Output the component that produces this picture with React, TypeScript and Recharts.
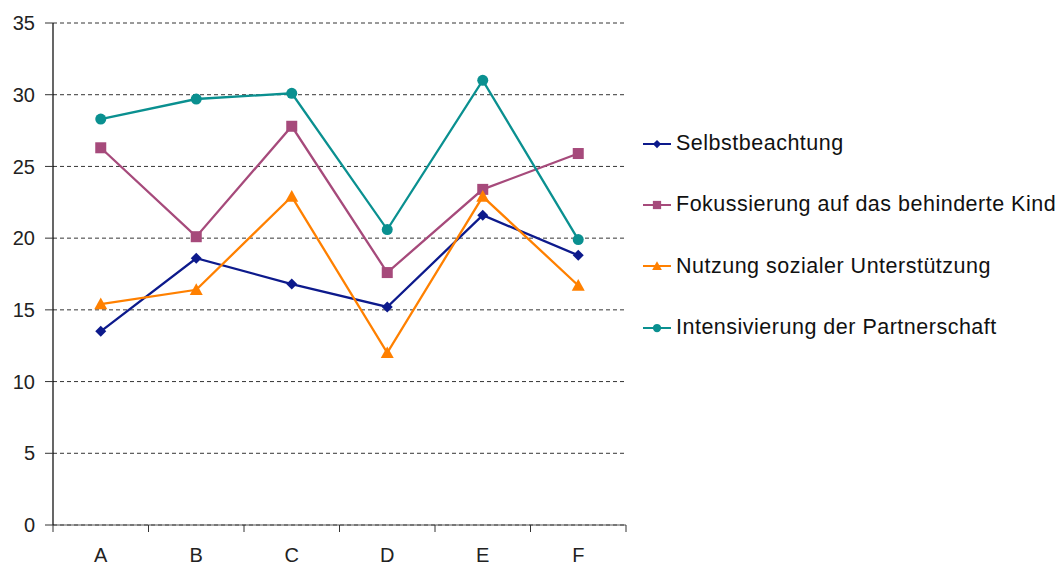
import { CartesianGrid, Line, LineChart, XAxis, YAxis } from 'recharts';

const categories = ['A', 'B', 'C', 'D', 'E', 'F'];
const selbstbeachtung = [13.5, 18.6, 16.8, 15.2, 21.6, 18.8];
const fokussierung = [26.3, 20.1, 27.8, 17.6, 23.4, 25.9];
const nutzung = [15.4, 16.4, 22.9, 12.0, 22.9, 16.7];
const intensivierung = [28.3, 29.7, 30.1, 20.6, 31.0, 19.9];
const yTicks = [0, 5, 10, 15, 20, 25, 30, 35];

type Shape = 'diamond' | 'square' | 'triangle' | 'circle';

const series: { key: string; name: string; color: string; shape: Shape; values: number[] }[] = [
  { key: 's1', name: 'Selbstbeachtung', color: '#0d1a8c', shape: 'diamond', values: selbstbeachtung },
  { key: 's2', name: 'Fokussierung auf das behinderte Kind', color: '#a64a7b', shape: 'square', values: fokussierung },
  { key: 's3', name: 'Nutzung sozialer Unterstützung', color: '#ff8000', shape: 'triangle', values: nutzung },
  { key: 's4', name: 'Intensivierung der Partnerschaft', color: '#0a9090', shape: 'circle', values: intensivierung },
];

const data = categories.map((c, i) => {
  const row: Record<string, string | number> = { cat: c };
  series.forEach((s) => (row[s.key] = s.values[i]));
  return row;
});

const W = 1061;
const H = 567;
const PLOT_LEFT = 53;
const PLOT_RIGHT = 626;
const HALF_BAND = (PLOT_RIGHT - PLOT_LEFT) / categories.length / 2;
const FONT = '"Liberation Sans", Arial, sans-serif';

const Marker = ({ cx, cy, shape, color, scale = 1 }: { cx: number; cy: number; shape: Shape; color: string; scale?: number }) => {
  if (cx == null || cy == null) return null;
  if (shape === 'diamond') {
    const r = 5.5 * scale;
    return <polygon points={`${cx},${cy - r} ${cx + r},${cy} ${cx},${cy + r} ${cx - r},${cy}`} fill={color} />;
  }
  if (shape === 'square') {
    const r = 5.5 * scale;
    return <rect x={cx - r} y={cy - r} width={2 * r} height={2 * r} fill={color} />;
  }
  if (shape === 'triangle') {
    const r = 6.5 * scale;
    return <polygon points={`${cx},${cy - r} ${cx + r},${cy + r * 0.8} ${cx - r},${cy + r * 0.8}`} fill={color} />;
  }
  return <circle cx={cx} cy={cy} r={5.5 * scale} fill={color} />;
};

const XTick = (props: any) => {
  const { x, y, payload, index } = props;
  return (
    <g>
      <line x1={x - HALF_BAND} x2={x - HALF_BAND} y1={y} y2={y + 7} stroke="#333" />
      {index === categories.length - 1 && (
        <line x1={x + HALF_BAND} x2={x + HALF_BAND} y1={y} y2={y + 7} stroke="#333" />
      )}
      <text x={x} y={y + 37} textAnchor="middle" fontSize={20} fill="#222" fontFamily={FONT}>
        {payload.value}
      </text>
    </g>
  );
};

const App = () => {
  return (
    <div style={{ position: 'absolute', left: 0, top: 0, width: W, height: H, background: '#fff' }}>
      <LineChart width={W} height={H} data={data} margin={{ top: 23, right: W - PLOT_RIGHT, bottom: 0, left: 0 }}>
        <CartesianGrid vertical={false} stroke="#000" strokeDasharray="4 3" strokeWidth={0.8} />
        <XAxis
          dataKey="cat"
          height={42}
          padding={{ left: HALF_BAND, right: HALF_BAND }}
          axisLine={{ stroke: '#555', strokeWidth: 1.2 }}
          tickLine={false}
          tickSize={0}
          tickMargin={0}
          tick={<XTick />}
          interval={0}
        />
        <YAxis
          width={PLOT_LEFT}
          domain={[0, 35]}
          ticks={yTicks}
          axisLine={{ stroke: '#000', strokeWidth: 1.2 }}
          tickLine={{ stroke: '#333' }}
          tickSize={8}
          tickMargin={10}
          tick={{ fontSize: 20, fill: '#222', fontFamily: FONT }}
          interval={0}
        />
        {series.map((s) => (
          <Line
            key={s.key}
            dataKey={s.key}
            name={s.name}
            stroke={s.color}
            strokeWidth={2.3}
            isAnimationActive={false}
            dot={(p: any) => <Marker key={`${s.key}-${p.index}`} cx={p.cx} cy={p.cy} shape={s.shape} color={s.color} />}
            activeDot={false}
          />
        ))}
      </LineChart>
      <div style={{ position: 'absolute', left: 642, top: 113, fontFamily: FONT, fontSize: 21.5, letterSpacing: 0.5, color: '#111' }}>
        {series.map((s) => (
          <div key={s.key} style={{ display: 'flex', alignItems: 'center', height: 61.3 }}>
            <svg width={30} height={14} style={{ marginRight: 4 }}>
              <line x1={1} x2={29} y1={7} y2={7} stroke={s.color} strokeWidth={2} />
              <Marker cx={15} cy={7} shape={s.shape} color={s.color} scale={0.75} />
            </svg>
            <span style={{ whiteSpace: 'nowrap' }}>{s.name}</span>
          </div>
        ))}
      </div>
    </div>
  );
};

export default App;
